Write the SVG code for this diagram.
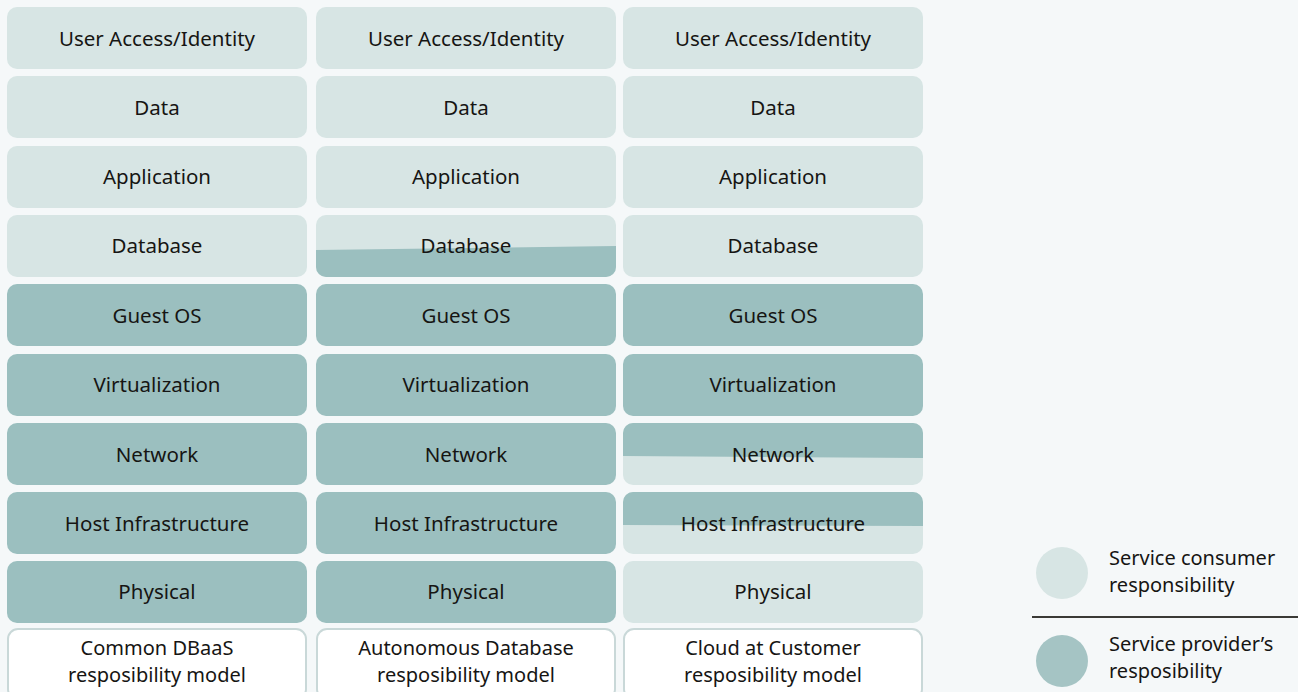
<svg xmlns="http://www.w3.org/2000/svg" width="1298" height="692" viewBox="0 0 1298 692">
<defs>
<style>
.bg{fill:#f5f8f9}
.lt{fill:#d7e5e4}
.dk{fill:#9bbfbf}
.ft{fill:#ffffff;stroke:#c9d8d8;stroke-width:2}
text{font-family:"Noto Sans","Open Sans","Liberation Sans",sans-serif;font-size:20.5px;fill:#161513;text-anchor:middle}
.f2{font-size:20px}
.lg{text-anchor:start;font-size:20px}
</style>
<clipPath id="c2d"><rect x="316" y="215" width="300" height="62" rx="10"/></clipPath>
<clipPath id="c3n"><rect x="623" y="423" width="300" height="62" rx="10"/></clipPath>
<clipPath id="c3h"><rect x="623" y="492" width="300" height="62" rx="10"/></clipPath>
</defs>
<rect class="bg" x="0" y="0" width="1298" height="692"/>

<g id="col1">
<g id="c1-user"><rect class="lt" x="7" y="7" width="300" height="62" rx="10"/><text x="157" y="46">User Access/Identity</text></g>
<g id="c1-data"><rect class="lt" x="7" y="76" width="300" height="62" rx="10"/><text x="157" y="115">Data</text></g>
<g id="c1-app"><rect class="lt" x="7" y="146" width="300" height="62" rx="10"/><text x="157" y="184">Application</text></g>
<g id="c1-db"><rect class="lt" x="7" y="215" width="300" height="62" rx="10"/><text x="157" y="253">Database</text></g>
<g id="c1-os"><rect class="dk" x="7" y="284" width="300" height="62" rx="10"/><text x="157" y="323">Guest OS</text></g>
<g id="c1-virt"><rect class="dk" x="7" y="354" width="300" height="62" rx="10"/><text x="157" y="392">Virtualization</text></g>
<g id="c1-net"><rect class="dk" x="7" y="423" width="300" height="62" rx="10"/><text x="157" y="462">Network</text></g>
<g id="c1-host"><rect class="dk" x="7" y="492" width="300" height="62" rx="10"/><text x="157" y="531">Host Infrastructure</text></g>
<g id="c1-phys"><rect class="dk" x="7" y="561" width="300" height="62" rx="10"/><text x="157" y="599">Physical</text></g>
<g id="c1-foot"><rect class="ft" x="8" y="629" width="298" height="70" rx="10"/><text class="f2" x="157" y="655">Common DBaaS</text><text class="f2" x="157" y="682">resposibility model</text></g>
</g>

<g id="col2">
<g id="c2-user"><rect class="lt" x="316" y="7" width="300" height="62" rx="10"/><text x="466" y="46">User Access/Identity</text></g>
<g id="c2-data"><rect class="lt" x="316" y="76" width="300" height="62" rx="10"/><text x="466" y="115">Data</text></g>
<g id="c2-app"><rect class="lt" x="316" y="146" width="300" height="62" rx="10"/><text x="466" y="184">Application</text></g>
<g id="c2-db"><rect class="lt" x="316" y="215" width="300" height="62" rx="10"/><path class="dk" clip-path="url(#c2d)" d="M316 250 L616 246 L616 277 L316 277 Z"/><text x="466" y="253">Database</text></g>
<g id="c2-os"><rect class="dk" x="316" y="284" width="300" height="62" rx="10"/><text x="466" y="323">Guest OS</text></g>
<g id="c2-virt"><rect class="dk" x="316" y="354" width="300" height="62" rx="10"/><text x="466" y="392">Virtualization</text></g>
<g id="c2-net"><rect class="dk" x="316" y="423" width="300" height="62" rx="10"/><text x="466" y="462">Network</text></g>
<g id="c2-host"><rect class="dk" x="316" y="492" width="300" height="62" rx="10"/><text x="466" y="531">Host Infrastructure</text></g>
<g id="c2-phys"><rect class="dk" x="316" y="561" width="300" height="62" rx="10"/><text x="466" y="599">Physical</text></g>
<g id="c2-foot"><rect class="ft" x="317" y="629" width="298" height="70" rx="10"/><text class="f2" x="466" y="655">Autonomous Database</text><text class="f2" x="466" y="682">resposibility model</text></g>
</g>

<g id="col3">
<g id="c3-user"><rect class="lt" x="623" y="7" width="300" height="62" rx="10"/><text x="773" y="46">User Access/Identity</text></g>
<g id="c3-data"><rect class="lt" x="623" y="76" width="300" height="62" rx="10"/><text x="773" y="115">Data</text></g>
<g id="c3-app"><rect class="lt" x="623" y="146" width="300" height="62" rx="10"/><text x="773" y="184">Application</text></g>
<g id="c3-db"><rect class="lt" x="623" y="215" width="300" height="62" rx="10"/><text x="773" y="253">Database</text></g>
<g id="c3-os"><rect class="dk" x="623" y="284" width="300" height="62" rx="10"/><text x="773" y="323">Guest OS</text></g>
<g id="c3-virt"><rect class="dk" x="623" y="354" width="300" height="62" rx="10"/><text x="773" y="392">Virtualization</text></g>
<g id="c3-net"><rect class="lt" x="623" y="423" width="300" height="62" rx="10"/><path class="dk" clip-path="url(#c3n)" d="M623 423 L923 423 L923 458 L623 456 Z"/><text x="773" y="462">Network</text></g>
<g id="c3-host"><rect class="lt" x="623" y="492" width="300" height="62" rx="10"/><path class="dk" clip-path="url(#c3h)" d="M623 492 L923 492 L923 526 L623 525 Z"/><text x="773" y="531">Host Infrastructure</text></g>
<g id="c3-phys"><rect class="lt" x="623" y="561" width="300" height="62" rx="10"/><text x="773" y="599">Physical</text></g>
<g id="c3-foot"><rect class="ft" x="624" y="629" width="298" height="70" rx="10"/><text class="f2" x="773" y="655">Cloud at Customer</text><text class="f2" x="773" y="682">resposibility model</text></g>
</g>

<g id="legend">
<g id="leg-consumer"><circle cx="1062" cy="573" r="26" fill="#d7e5e4"/><text class="lg" x="1109" y="565">Service consumer</text><text class="lg" x="1109" y="592">responsibility</text></g>
<line x1="1032" y1="617" x2="1298" y2="617" stroke="#3a3a36" stroke-width="2"/>
<g id="leg-provider"><circle cx="1062" cy="661" r="26" fill="#a5c4c4"/><text class="lg" x="1109" y="651">Service provider’s</text><text class="lg" x="1109" y="678">resposibility</text></g>
</g>
</svg>
